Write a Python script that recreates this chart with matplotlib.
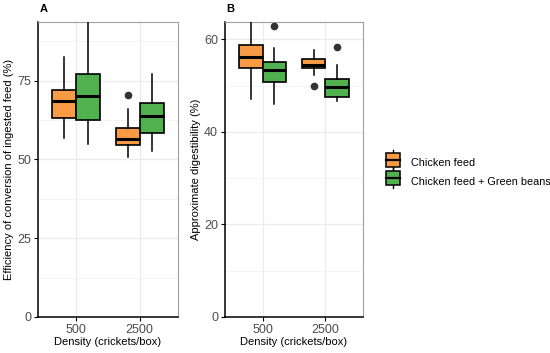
import matplotlib
matplotlib.use("Agg")
import matplotlib.pyplot as plt
from matplotlib.legend_handler import HandlerBase
from matplotlib.patches import Rectangle
from matplotlib.lines import Line2D

plt.rcParams['font.family'] = ['Liberation Sans', 'DejaVu Sans']

densities = ["500", "2500"]
groups = ["Chicken feed", "Chicken feed + Green beans"]
colors = ["#F99B45", "#52B14F"]

# stats per group per density: (whislo, q1, med, q3, whishi, outliers)
eff_feed = [(56.8, 63.1, 68.6, 71.9, 82.5, []),
            (50.7, 54.4, 56.3, 59.9, 66.0, [70.3])]
eff_beans = [(55.0, 62.4, 70.1, 77.2, 96.0, []),
             (52.8, 58.4, 63.9, 68.0, 77.1, [])]
dig_feed = [(47.2, 53.9, 56.3, 58.9, 66.0, []),
            (52.4, 53.9, 54.4, 55.7, 57.7, [50.0])]
dig_beans = [(46.1, 50.9, 53.5, 55.1, 58.2, [62.9]),
             (46.8, 47.6, 49.7, 51.5, 54.4, [58.3])]

eff_ticks = [0, 25, 50, 75]
dig_ticks = [0, 20, 40, 60]


def stats(rows):
    out = []
    for lo, q1, med, q3, hi, fl in rows:
        out.append(dict(whislo=lo, q1=q1, med=med, q3=q3, whishi=hi, fliers=fl))
    return out


def panel(ax, series, ticks, ylim, ylabel, letter):
    w = 0.375
    for k, rows in enumerate(series):
        pos = [i + 1 + (k - 0.5) * w for i in range(len(densities))]
        ax.bxp(stats(rows), positions=pos, widths=w, patch_artist=True,
               showcaps=False,
               boxprops=dict(facecolor=colors[k], edgecolor="black", linewidth=1.2),
               medianprops=dict(color="black", linewidth=2.2),
               whiskerprops=dict(color="black", linewidth=1.1),
               flierprops=dict(marker="o", markerfacecolor="#333333",
                               markeredgecolor="#333333", markersize=4.5),
               zorder=3)
    ax.set_xticks([1, 2])
    ax.set_xticklabels(densities)
    ax.set_yticks(ticks)
    step = ticks[1] - ticks[0]
    ax.set_yticks([t + step / 2 for t in ticks if t + step / 2 < ylim[1]], minor=True)
    ax.set_xlim(0.4, 2.6)
    ax.set_ylim(*ylim)
    ax.grid(True, which="major", color="#EBEBEB", linewidth=0.9, zorder=0)
    ax.grid(True, which="minor", axis="y", color="#F3F3F3", linewidth=0.6, zorder=0)
    ax.set_axisbelow(True)
    ax.tick_params(axis="both", which="major", labelsize=9, labelcolor="#4D4D4D",
                   color="black", length=3, width=0.8, pad=2)
    ax.tick_params(axis="y", which="minor", length=0)
    for s in ["top", "right"]:
        ax.spines[s].set_color("#A0A0A0")
        ax.spines[s].set_linewidth(0.8)
    for s in ["left", "bottom"]:
        ax.spines[s].set_color("black")
        ax.spines[s].set_linewidth(1.1)
    ax.set_xlabel("Density (crickets/box)", fontsize=8, labelpad=1)
    ax.set_ylabel(ylabel, fontsize=8, labelpad=2)
    ax.annotate(letter, xy=(0, 1), xycoords="axes fraction", xytext=(1, 9),
                textcoords="offset points", fontsize=8, fontweight="bold",
                ha="left", va="center")


class BoxHandler(HandlerBase):
    def create_artists(self, legend, orig, xd, yd, width, height, fontsize, trans):
        cx = xd + width / 2
        r = Rectangle((xd + width * 0.1, yd - height * 0.15), width * 0.8, height * 1.3,
                      facecolor=orig.get_facecolor(), edgecolor="black", lw=1.1,
                      transform=trans)
        m = Line2D([xd + width * 0.1, xd + width * 0.9], [yd + height / 2] * 2,
                   color="black", lw=1.6, transform=trans)
        w1 = Line2D([cx, cx], [yd - height * 0.45, yd - height * 0.15],
                    color="black", lw=1, transform=trans)
        w2 = Line2D([cx, cx], [yd + height * 1.15, yd + height * 1.45],
                    color="black", lw=1, transform=trans)
        return [w1, w2, r, m]


fig = plt.figure(figsize=(5.5, 3.53), dpi=100)
axA = fig.add_axes([0.069, 0.102, 0.2545, 0.836])
axB = fig.add_axes([0.409, 0.102, 0.251, 0.836])

panel(axA, [eff_feed, eff_beans], eff_ticks, (0, 93.6),
      "Efficiency of conversion of ingested feed (%)", "A")
panel(axB, [dig_feed, dig_beans], dig_ticks, (0, 63.8),
      "Approximate digestibility (%)", "B")

handles = [Rectangle((0, 0), 1, 1, facecolor=c) for c in colors]
fig.legend(handles, groups, loc="center left", bbox_to_anchor=(0.694, 0.512),
           frameon=False, fontsize=7.8, handler_map={Rectangle: BoxHandler()},
           handlelength=1.7, handleheight=1.1, handletextpad=0.85, labelspacing=0.7,
           borderaxespad=0, borderpad=0.2)

fig.savefig("out.png", dpi=100)
